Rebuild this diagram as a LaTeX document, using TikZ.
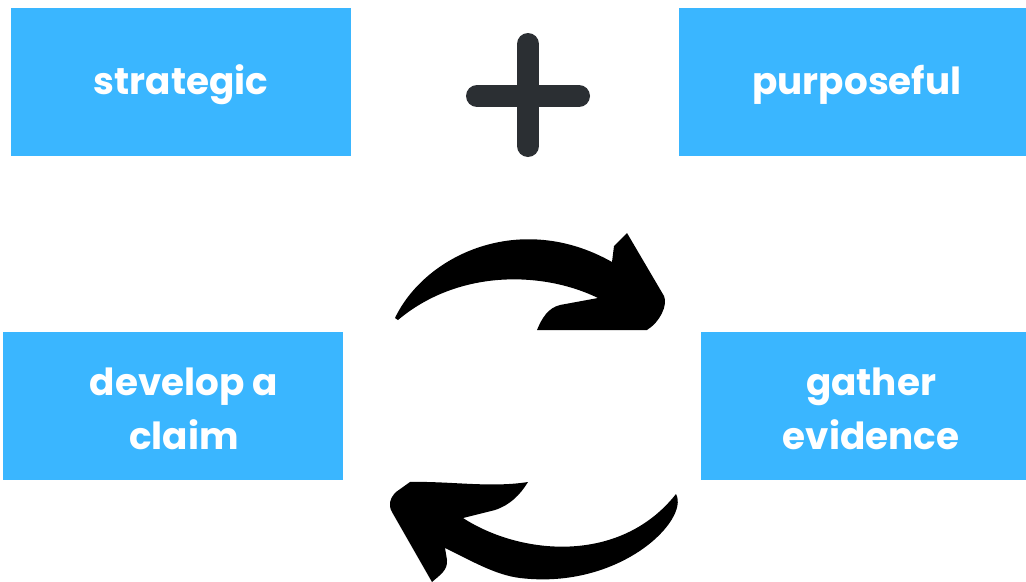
\documentclass[tikz,border=0pt]{standalone}
\usepackage{fontspec}
\setmainfont{Poppins}
\definecolor{boxblue}{HTML}{3AB6FF}
\definecolor{plusgray}{HTML}{2B2F33}
\begin{document}
\begin{tikzpicture}[x=0.75pt,y=-0.75pt,
  box/.style={fill=boxblue,draw=none,text=white,font=\fontsize{28}{40.5}\selectfont\bfseries,align=center,inner sep=0pt},
  plusbar/.style={draw=plusgray,line width=16.5pt,line cap=round}]
\useasboundingbox[fill=white] (0,0) rectangle (1026,582);
\fill[boxblue] (11,8) rectangle (351,156);
\fill[boxblue] (679,8) rectangle (1026,156);
\fill[boxblue] (3,332) rectangle (343,480);
\fill[boxblue] (701,332) rectangle (1026,480);
\node[box] (strategic) at (181,85) {strategic};
\node[box] (purposeful) at (857,85) {purposeful};
\node[box] (claim) at (184,409) {develop a\\claim};
\node[box] (evidence) at (871,409) {gather\\evidence};
% plus
\coordinate (pt) at (528,44);
\coordinate (pb) at (528,146);
\coordinate (pl) at (477,96);
\coordinate (pr) at (579,96);
\draw[plusbar] (pt) -- (pb);
\draw[plusbar] (pl) -- (pr);
% top arrow
\fill[black] (395,318)
  .. controls (425,255) and (520,210) .. (612,262)
  -- (614,246) -- (627,233)
  -- (664,296) .. controls (668,305) and (660,322) .. (647,330)
  -- (537,330) .. controls (542,318) and (548,308) .. (560,305)
  -- (598,298)
  .. controls (545,272) and (460,268) .. (398,320) -- cycle;
% bottom arrow
\fill[black] (676,494)
  .. controls (690,520) and (620,590) .. (520,578)
  .. controls (495,575) and (470,560) .. (445,548)
  -- (447,560) .. controls (448,570) and (440,575) .. (432,582)
  -- (392,512) .. controls (388,505) and (390,498) .. (396,492)
  -- (410,482) .. controls (450,481) and (490,488) .. (528,482)
  .. controls (520,495) and (510,505) .. (495,510)
  -- (463,518)
  .. controls (520,555) and (620,565) .. (676,494) -- cycle;
\end{tikzpicture}
\end{document}
